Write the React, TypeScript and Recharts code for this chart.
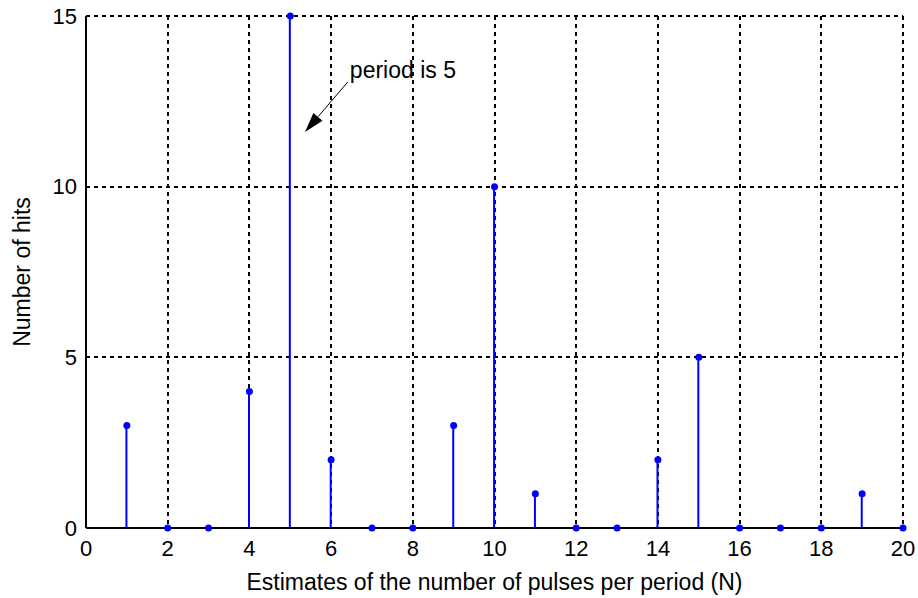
import React from "react";
import {
  ComposedChart,
  Bar,
  Scatter,
  XAxis,
  YAxis,
  CartesianGrid,
  ReferenceLine,
} from "recharts";

// estimates of N (pulses per period) and how often each was hit
const estimates = [1, 2, 3, 4, 5, 6, 7, 8, 9, 10, 11, 12, 13, 14, 15, 16, 17, 18, 19, 20];
const hits = [3, 0, 0, 4, 15, 2, 0, 0, 3, 10, 1, 0, 0, 2, 5, 0, 0, 0, 1, 0];

const xTicks = [0, 2, 4, 6, 8, 10, 12, 14, 16, 18, 20];
const yTicks = [0, 5, 10, 15];

const noteText = "period is 5";
const noteTail = { x: 6.41, y: 13.07 };
const noteTip = { x: 5.36, y: 11.6 };

const data = estimates.map((n, i) => ({ n, hits: hits[i] }));

const FONT = "'Liberation Sans', Arial, sans-serif";
const BLUE = "#0000ff";

const Stem = (props: any) => {
  const { x, y, width, height } = props;
  if (x == null || y == null) return null;
  const cx = x + width / 2;
  return <line x1={cx} x2={cx} y1={y} y2={y + height} stroke={BLUE} strokeWidth={2} />;
};

const Dot = (props: any) => {
  const { cx, cy } = props;
  if (cx == null || cy == null) return null;
  return <circle cx={cx} cy={cy} r={3.5} fill={BLUE} />;
};

const Arrow = (props: any) => {
  const { x1, y1, x2, y2 } = props;
  if (x1 == null) return null;
  const dx = x2 - x1;
  const dy = y2 - y1;
  const len = Math.sqrt(dx * dx + dy * dy);
  const ux = dx / len;
  const uy = dy / len;
  const headLen = 20;
  const half = 6;
  const bx = x2 - ux * headLen;
  const by = y2 - uy * headLen;
  const pts = `${x2},${y2} ${bx - uy * half},${by + ux * half} ${bx + uy * half},${by - ux * half}`;
  return (
    <g>
      <line x1={x1} y1={y1} x2={bx} y2={by} stroke="#000" strokeWidth={1} />
      <polygon points={pts} fill="#000" />
      <text x={x1 + 2} y={y1 - 4} fontFamily={FONT} fontSize={23} fill="#000">
        {noteText}
      </text>
    </g>
  );
};

const YLabel = (props: any) => {
  const { viewBox } = props;
  const x = viewBox.x + 22;
  const y = viewBox.y + viewBox.height / 2;
  return (
    <text
      x={x}
      y={y}
      transform={`rotate(-90 ${x} ${y})`}
      textAnchor="middle"
      dominantBaseline="central"
      fontFamily={FONT}
      fontSize={23}
      fill="#000"
    >
      Number of hits
    </text>
  );
};

export default function App() {
  return (
    <div style={{ position: "absolute", left: 0, top: 0, width: 918, height: 598, background: "#fff" }}>
      <style>{`.recharts-cartesian-grid line, .recharts-cartesian-axis-line { shape-rendering: crispEdges; }`}</style>
      <ComposedChart
        width={918}
        height={598}
        data={data}
        margin={{ top: 16, right: 15, left: 0, bottom: 0 }}
      >
        <CartesianGrid stroke="#000" strokeDasharray="4 4" strokeWidth={2} />
        <XAxis
          dataKey="n"
          type="number"
          domain={[0, 20]}
          ticks={xTicks}
          interval={0}
          height={70}
          stroke="#000"
          strokeWidth={2}
          tickLine={false}
          tickSize={10}
          tickMargin={2}
          tick={{ fill: "#000", fontSize: 22, fontFamily: FONT }}
          label={{
            value: "Estimates of the number of pulses per period (N)",
            position: "insideBottom",
            offset: 8,
            fill: "#000",
            fontSize: 23,
            fontFamily: FONT,
          }}
        />
        <YAxis
          type="number"
          domain={[0, 15]}
          ticks={yTicks}
          interval={0}
          width={86}
          stroke="#000"
          strokeWidth={2}
          tickLine={false}
          tickSize={7}
          tickMargin={2}
          tick={{ fill: "#000", fontSize: 22, fontFamily: FONT }}
          label={<YLabel />}
        />
        <Bar dataKey="hits" barSize={4} shape={<Stem />} isAnimationActive={false} />
        <Scatter dataKey="hits" shape={<Dot />} isAnimationActive={false} />
        <ReferenceLine
          segment={[noteTail, noteTip]}
          shape={<Arrow />}
          ifOverflow="visible"
        />
      </ComposedChart>
    </div>
  );
}
